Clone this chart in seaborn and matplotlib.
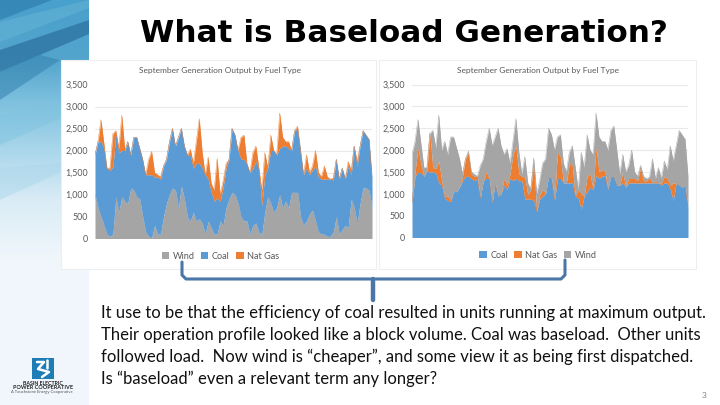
import numpy as np
import pandas as pd
import matplotlib
matplotlib.use("Agg")
import matplotlib.pyplot as plt
from matplotlib.patches import Patch, Polygon, Rectangle
import seaborn as sns

chart_title = "September Generation Output by Fuel Type"
yticks = [0, 500, 1000, 1500, 2000, 2500, 3000, 3500]
ytick_labels = ["0", "500", "1,000", "1,500", "2,000", "2,500", "3,000", "3,500"]

total = [1900,2200,2700,2150,1600,1600,2380,2450,2050,2800,2000,2200,1900,2300,2300,2050,1800,1450,1800,1980,
         1500,1450,1400,1650,1800,2200,2500,2100,2300,2500,2100,1900,2030,1700,2200,2720,1950,1450,1850,1250,
         1100,1820,1000,1300,1700,1800,2500,2350,2000,2300,2350,1700,1500,1950,2100,1600,1100,1950,1600,2350,
         2000,1900,2850,2300,2200,2200,2000,2450,2550,2000,1450,1900,1500,1650,2000,1500,1400,1650,1400,1350,
         1380,1800,1350,1600,1350,1750,1550,2100,1750,2100,2450,2350,2250,1400]
wind_left = [1000,700,500,300,100,50,100,950,600,950,850,800,1150,1100,950,900,500,150,50,20,
             300,100,100,500,800,1000,1150,1100,700,1200,900,500,400,600,400,450,350,100,400,250,
             100,100,400,300,700,900,1050,1000,800,500,400,400,100,300,350,150,100,600,950,800,
             600,700,1000,700,850,700,1050,1050,1050,500,300,400,550,650,400,150,100,100,50,50,
             150,500,100,200,300,250,900,700,350,800,1150,1150,1100,700]
gas_left = [0,0,500,100,0,50,750,50,100,800,0,0,0,0,0,0,0,0,350,530,
            100,50,50,0,0,0,0,0,0,0,0,0,150,100,500,1000,350,0,500,200,
            250,900,150,150,100,0,0,0,0,500,550,0,0,350,350,0,350,500,0,350,
            0,0,800,200,100,150,0,0,50,0,0,300,50,100,350,100,50,300,50,0,
            50,0,0,0,0,100,100,0,100,0,0,0,0,0]
coal_right = [800,1400,1500,1480,1400,1520,1500,1500,1480,1250,1200,900,850,820,1050,1050,1150,1300,1400,1400,
              1350,1300,1350,900,1300,1350,1350,800,1250,950,1000,1200,1100,1350,1300,1350,1300,1300,880,880,
              880,850,600,880,950,1000,1400,1350,850,1350,1350,1250,1250,1250,1250,950,900,650,950,1050,
              1150,1100,1420,1350,1400,1420,1100,1400,1400,1200,1200,1250,1150,1250,1250,1250,1250,1250,1250,1250,
              1250,1250,1250,1250,1200,1250,1250,1100,850,1250,1200,1150,1200,700]
gas_right = [0,100,550,200,0,0,880,100,100,500,100,50,100,50,0,0,0,100,400,530,
             100,100,50,0,0,150,0,0,0,0,0,150,100,100,600,750,150,100,500,100,
             220,850,0,100,150,0,0,0,50,600,500,0,0,450,400,0,200,350,0,350,
             300,0,650,150,150,100,0,0,0,0,0,250,0,100,100,100,50,350,50,50,
             120,0,50,0,50,150,100,100,400,0,0,0,0,0]

hours = np.arange(len(total))
COAL, GAS, WIND = "#5b9bd5", "#ed7d31", "#a5a5a5"

sns.set_theme(style="white")
plt.rcParams["font.family"] = ["Lato", "DejaVu Sans"]

W, H = 720, 405
fig = plt.figure(figsize=(7.2, 4.05), dpi=100, facecolor="white")

# decorative background band, drawn in pixel space
bg = fig.add_axes([0, 0, 1, 1], zorder=0)
ramp_t = np.array([0, 60, 100, 150, 200, 260, 405], float)
rgb = np.array([[72,160,204],[84,165,205],[125,192,222],[170,215,235],[218,236,246],[240,247,251],[240,246,251]], float)
ys = np.arange(H)
grad = np.stack([np.interp(ys, ramp_t, rgb[:, i]) for i in range(3)], axis=1)[:, None, :] / 255
bg.imshow(grad, extent=(0, 89, H, 0), aspect="auto", zorder=0)
for pts, col, a in [([(0, 0), (52, 0), (0, 20)], "#2a7aa8", .6),
                    ([(0, 22), (89, 0), (89, 8), (0, 42)], "#76bfdc", .35),
                    ([(0, 50), (89, 20), (89, 34), (40, 55), (0, 72)], "#2a6f9e", .7),
                    ([(0, 72), (40, 55), (60, 60), (0, 100)], "#3583b0", .55),
                    ([(0, 115), (61, 100), (61, 118), (0, 145)], "#7fc3df", .45),
                    ([(0, 168), (61, 163), (61, 172), (0, 200)], "#a5d4e9", .4)]:
    bg.add_patch(Polygon(pts, closed=True, fc=col, ec="none", alpha=a, zorder=1))
bg.set_xlim(0, W); bg.set_ylim(H, 0); bg.axis("off")

# white chart panels
for x0, x1 in [(61, 376), (379, 696)]:
    bg.add_patch(Rectangle((x0, 60), x1 - x0, 209, fc="white", ec="#eeeeee", lw=0.8, zorder=2))

# bracket
brk = "#4a76a8"
bg.plot([182, 182, 186, 561, 565, 565], [262, 275, 279, 279, 275, 260], color=brk, lw=2.2,
        solid_joinstyle="round", zorder=3)
bg.plot([373, 373], [279, 300], color=brk, lw=3.2, zorder=3)

# logo
bg.add_patch(Rectangle((32, 358), 22, 21, fc="#1f7db5", ec="none", zorder=3))
bg.plot([37, 44, 38, 49, 42], [362, 362, 369, 372, 377], color="white", lw=1.8, zorder=4)
bg.plot([47, 47], [360, 368], color="white", lw=1.8, zorder=4)
bg.text(43, 383.5, "BASIN ELECTRIC", fontsize=3.8, weight="bold", ha="center", va="center", color="#222222", zorder=4)
bg.text(43, 387.5, "POWER COOPERATIVE", fontsize=4.0, weight="bold", ha="center", va="center", color="#222222", zorder=4)
bg.text(42, 392.5, "A Touchstone Energy Cooperative", fontsize=3.0, ha="center", va="center", color="#555555", zorder=4)


def panel(box, layers, centre):
    x0, x1, ytop, ybot = box
    ax = fig.add_axes([x0 / W, 1 - ybot / H, (x1 - x0) / W, (ybot - ytop) / H], zorder=3)
    ax.patch.set_alpha(0)
    base = np.zeros(len(hours))
    for name, values, color in layers:
        top = base + np.asarray(values, float)
        df = pd.DataFrame({"hour": hours, "mw": top})
        sns.lineplot(data=df, x="hour", y="mw", color=color, lw=0.3, ax=ax, errorbar=None, zorder=3)
        ax.fill_between(hours, base, top, color=color, lw=0, zorder=3)
        base = top
    ax.set_xlim(hours[0], hours[-1])
    ax.set_ylim(0, 3500)
    ax.set_yticks(yticks, ytick_labels)
    ax.set_xticks([])
    ax.set_xlabel(""); ax.set_ylabel("")
    ax.grid(axis="y", color="#e9e9e9", lw=0.8)
    ax.set_axisbelow(True)
    ax.tick_params(axis="y", length=0, labelsize=6.4, labelcolor="#595959", pad=5)
    sns.despine(ax=ax, left=True, bottom=True, top=True, right=True)
    ax.set_title(chart_title, fontsize=6.0, color="#595959", pad=8.5, x=centre)
    ax.legend(handles=[Patch(fc=c, ec="none", label=n) for n, _, c in layers], ncol=3, loc="center",
              bbox_to_anchor=(centre, -0.115), frameon=False, fontsize=6.6, labelcolor="#595959",
              handlelength=0.8, handleheight=0.8, handletextpad=0.4, columnspacing=0.7, borderpad=0)
    return ax


coal_left = np.array(total) - np.array(wind_left) - np.array(gas_left)
wind_right = np.array(total) - np.array(coal_right) - np.array(gas_right)
panel((95, 372, 84.5, 238.5), [("Wind", wind_left, WIND), ("Coal", coal_left, COAL), ("Nat Gas", gas_left, GAS)], 0.453)
panel((412, 688, 84.5, 237.5), [("Coal", coal_right, COAL), ("Nat Gas", gas_right, GAS), ("Wind", wind_right, WIND)], 0.457)

fig.text(404 / W, 1 - 33 / H, "What is Baseload Generation?", fontsize=22.4, weight="bold",
         family="DejaVu Sans", color="black", ha="center", va="center", zorder=5)

lines = ["It use to be that the efficiency of coal resulted in units running at maximum output.",
         "Their operation profile looked like a block volume. Coal was baseload.  Other units",
         "followed load.  Now wind is \u201ccheaper\u201d, and some view it as being first dispatched.",
         "Is \u201cbaseload\u201d even a relevant term any longer?"]
for y, line in zip([313, 335, 357, 379], lines):
    fig.text(101 / W, 1 - y / H, line, fontsize=12.0, color="#111111", ha="left", va="center", zorder=5)

fig.text(704 / W, 1 - 396 / H, "3", fontsize=6, color="#7f7f7f", ha="center", va="center", zorder=5)
fig.savefig("out.png", dpi=100)
